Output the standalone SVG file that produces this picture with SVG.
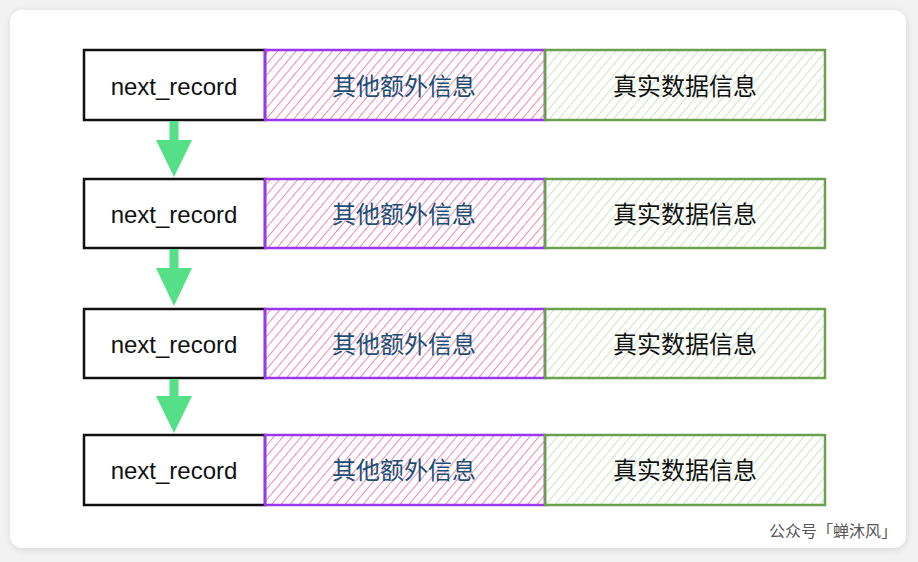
<svg xmlns="http://www.w3.org/2000/svg" width="918" height="562" viewBox="0 0 918 562">
<defs>
<pattern id="pink" patternUnits="userSpaceOnUse" width="7" height="8" patternTransform="rotate(40)">
<line x1="0" y1="0" x2="0" y2="8" stroke="#ec6aa5" stroke-width="1.6"/>
</pattern>
<pattern id="green" patternUnits="userSpaceOnUse" width="7" height="8" patternTransform="rotate(40)">
<line x1="0" y1="0" x2="0" y2="8" stroke="#bcdcab" stroke-width="1.5"/>
</pattern>
<filter id="sh" x="-5%" y="-5%" width="110%" height="110%">
<feGaussianBlur stdDeviation="4"/>
</filter>
</defs>
<style>
.t{font-family:"Liberation Sans","Noto Sans CJK SC",Arial,sans-serif;font-size:24px;text-anchor:middle;dominant-baseline:central}
.nr rect{fill:#fff;stroke:#111;stroke-width:2.5}
.px rect{fill:url(#pink);stroke:#9a36ef;stroke-width:2.5}
.px text{fill:#1b4e77}
.gd rect{fill:url(#green);stroke:#6aa14f;stroke-width:2.5}
.gd text{fill:#111}
.nr text{fill:#111}
.conn path{fill:#55e088}
</style>
<rect width="918" height="562" fill="#f2f2f2"/>
<rect x="11" y="12" width="895" height="537" rx="12" fill="#000" opacity="0.12" filter="url(#sh)"/>
<rect x="10" y="10" width="896" height="538" rx="12" fill="#fff"/>

<g id="row1">
<g id="n1" class="nr"><rect x="84" y="50" width="181" height="70"/><text class="t" x="174" y="86">next_record</text></g>
<g id="p1" class="px"><rect x="265" y="50" width="280" height="70"/><text class="t" x="404" y="86">其他额外信息</text></g>
<g id="d1" class="gd"><rect x="545" y="50" width="280" height="70"/><text class="t" x="685" y="86">真实数据信息</text></g>
</g>
<g id="row2">
<g id="n2" class="nr"><rect x="84" y="179" width="181" height="69"/><text class="t" x="174" y="214">next_record</text></g>
<g id="p2" class="px"><rect x="265" y="179" width="280" height="69"/><text class="t" x="404" y="214">其他额外信息</text></g>
<g id="d2" class="gd"><rect x="545" y="179" width="280" height="69"/><text class="t" x="685" y="214">真实数据信息</text></g>
</g>
<g id="row3">
<g id="n3" class="nr"><rect x="84" y="309" width="181" height="69"/><text class="t" x="174" y="344">next_record</text></g>
<g id="p3" class="px"><rect x="265" y="309" width="280" height="69"/><text class="t" x="404" y="344">其他额外信息</text></g>
<g id="d3" class="gd"><rect x="545" y="309" width="280" height="69"/><text class="t" x="685" y="344">真实数据信息</text></g>
</g>
<g id="row4">
<g id="n4" class="nr"><rect x="84" y="435" width="181" height="70"/><text class="t" x="174" y="470">next_record</text></g>
<g id="p4" class="px"><rect x="265" y="435" width="280" height="70"/><text class="t" x="404" y="470">其他额外信息</text></g>
<g id="d4" class="gd"><rect x="545" y="435" width="280" height="70"/><text class="t" x="685" y="470">真实数据信息</text></g>
</g>

<g id="connectors" class="conn">
<path d="M169.5,121 H178.5 V140 L192,140 L174,177 L156,140 L169.5,140 Z"/>
<path d="M169.5,249 H178.5 V268 L192,268 L174,306 L156,268 L169.5,268 Z"/>
<path d="M169.5,379 H178.5 V396 L192,396 L174,433 L156,396 L169.5,396 Z"/>
</g>

<text x="897" y="537" style="font-family:'Noto Sans CJK SC',sans-serif;font-size:16px;fill:#555;text-anchor:end">公众号「蝉沐风」</text>
</svg>
